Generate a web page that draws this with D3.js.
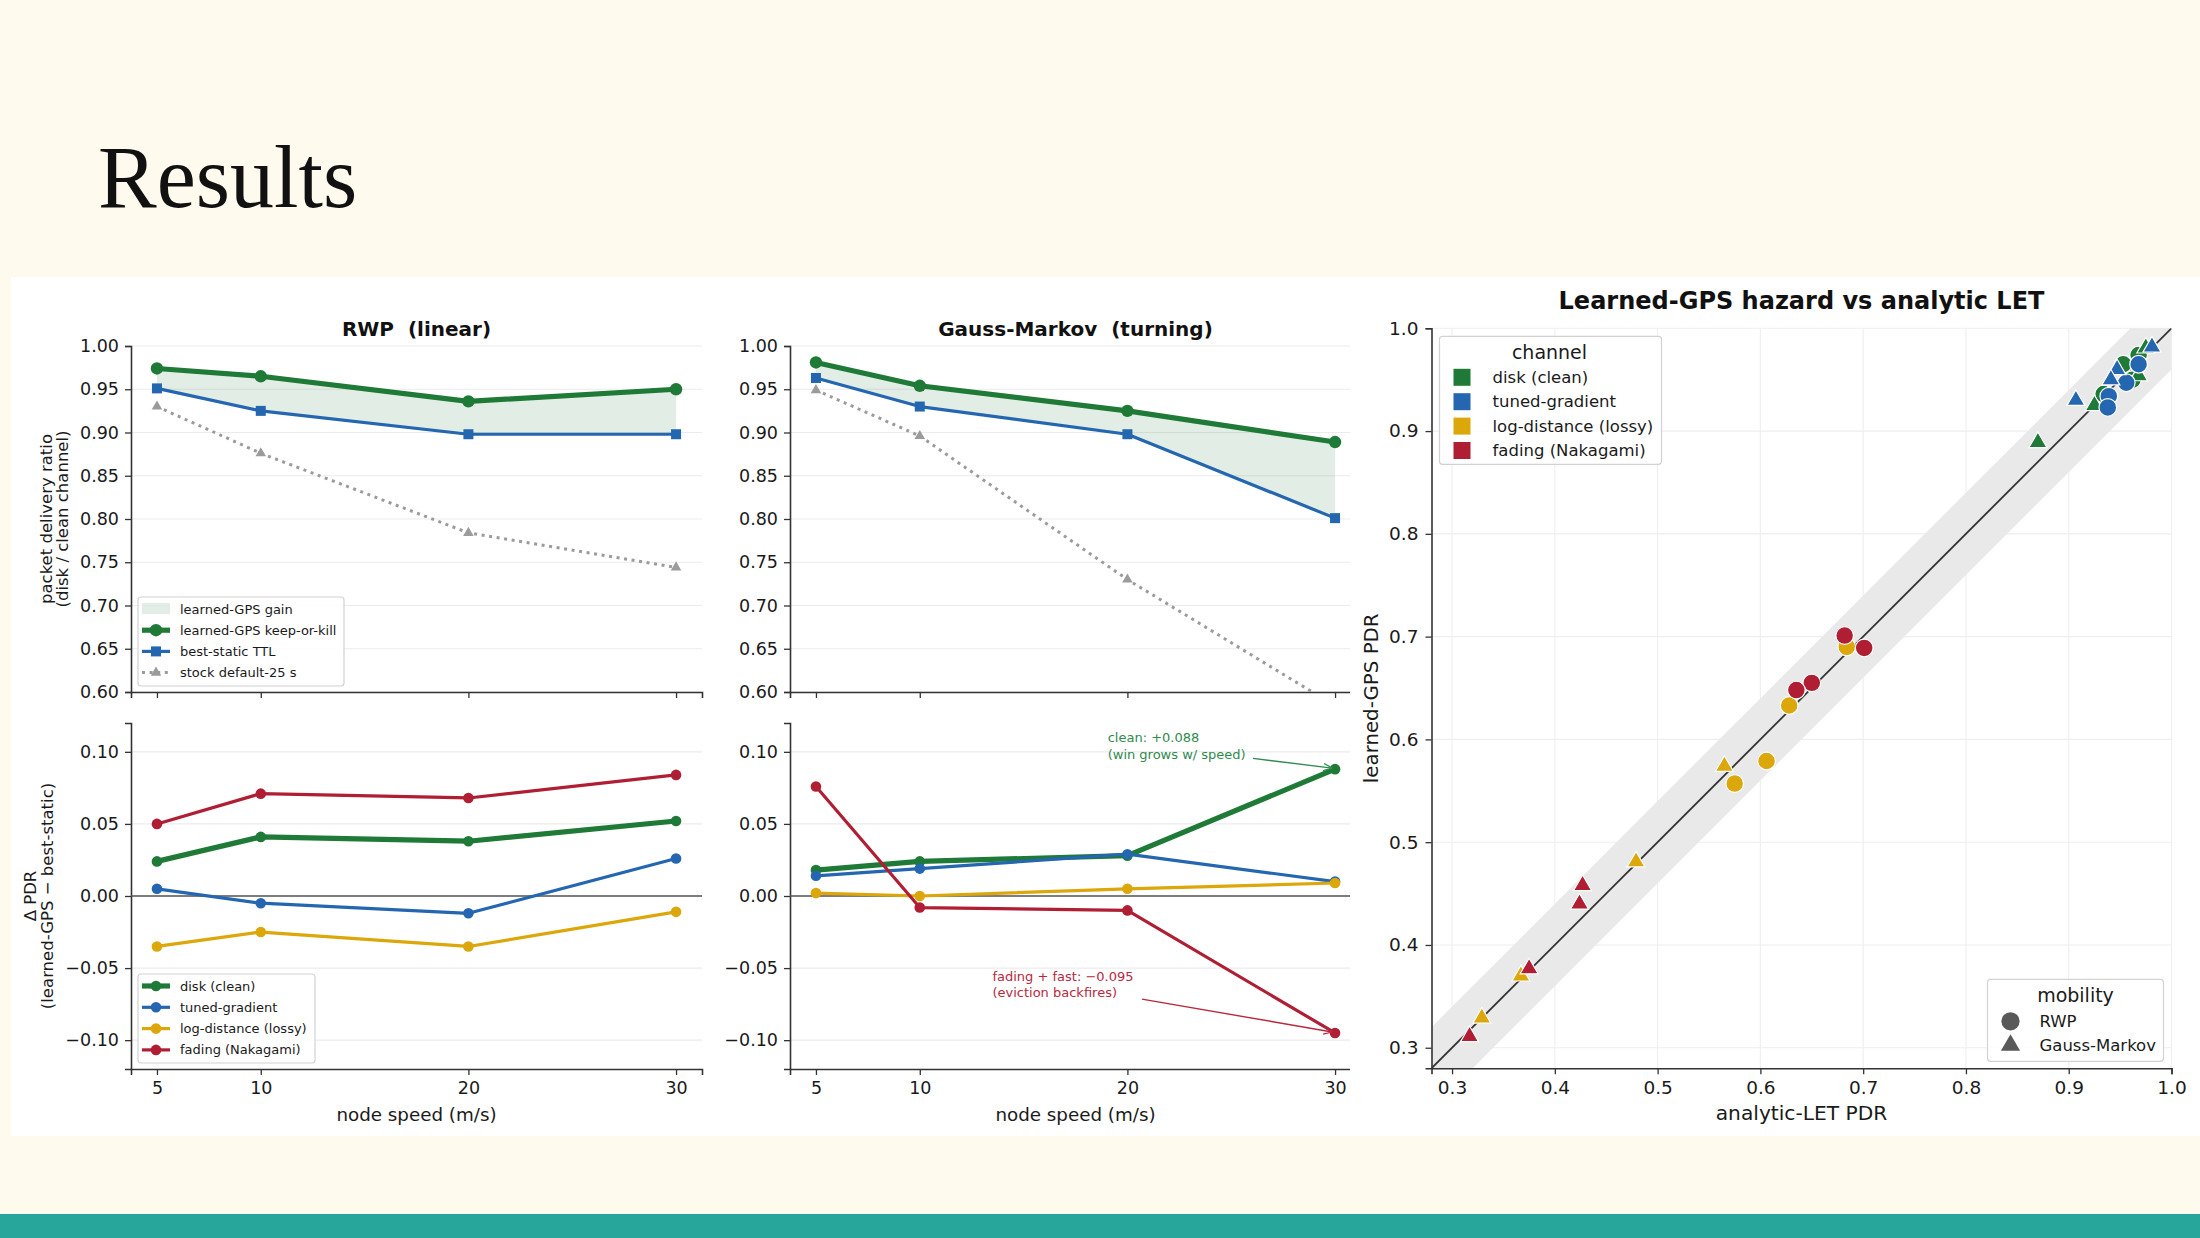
<!DOCTYPE html>
<html>
<head>
<meta charset="utf-8">
<script src="https://cdn.jsdelivr.net/npm/d3@7"></script>
<style>
  body { margin: 0; background: #fffaee; }
  text { font-family: "DejaVu Sans", sans-serif; }
</style>
</head>
<body>
<svg id="chart" width="2200" height="1238"></svg>
<script>
// ---- data ----
const speeds = [5, 10, 20, 30];
const pdrTicks = [0.60, 0.65, 0.70, 0.75, 0.80, 0.85, 0.90, 0.95, 1.00];
const deltaTicks = [-0.10, -0.05, 0.00, 0.05, 0.10];
const scatterTicks = [0.3, 0.4, 0.5, 0.6, 0.7, 0.8, 0.9, 1.0];

// top row: PDR on the clean disk channel
const rwpLearned = [0.974, 0.965, 0.936, 0.950];
const rwpBestStatic = [0.951, 0.925, 0.898, 0.898];
const rwpStock = [0.930, 0.876, 0.784, 0.744];
const gmLearned = [0.981, 0.954, 0.925, 0.889];
const gmBestStatic = [0.963, 0.930, 0.898, 0.801];
const gmStock = [0.949, 0.896, 0.730, 0.584];

// bottom row: delta PDR per channel (rows follow `channels`)
const channels = ["disk (clean)", "tuned-gradient", "log-distance (lossy)", "fading (Nakagami)"];
const rwpDelta = [
  [0.024, 0.041, 0.038, 0.052],
  [0.005, -0.005, -0.012, 0.026],
  [-0.035, -0.025, -0.035, -0.011],
  [0.050, 0.071, 0.068, 0.084]
];
const gmDelta = [
  [0.018, 0.024, 0.028, 0.088],
  [0.014, 0.019, 0.029, 0.010],
  [0.002, 0.000, 0.005, 0.009],
  [0.076, -0.008, -0.010, -0.095]
];

// scatter: analytic-LET PDR vs learned-GPS PDR, per channel, per speed
const mobilities = ["RWP", "Gauss-Markov"];
const rwpLet = [
  [0.968, 0.953, 0.934, 0.962],
  [0.968, 0.956, 0.939, 0.938],
  [0.684, 0.628, 0.606, 0.575],
  [0.682, 0.701, 0.650, 0.635]
];
const rwpGps = [
  [0.974, 0.965, 0.936, 0.950],
  [0.965, 0.947, 0.934, 0.923],
  [0.690, 0.633, 0.579, 0.557],
  [0.701, 0.689, 0.655, 0.648]
];
const gmLet = [
  [0.975, 0.968, 0.925, 0.870],
  [0.981, 0.947, 0.941, 0.907],
  [0.565, 0.479, 0.367, 0.329],
  [0.427, 0.424, 0.375, 0.317]
];
const gmGps = [
  [0.981, 0.954, 0.925, 0.889],
  [0.982, 0.960, 0.950, 0.930],
  [0.574, 0.481, 0.370, 0.329],
  [0.458, 0.440, 0.377, 0.311]
];
const bandHalfWidth = 0.04;

// ---- styles ----
const C = {
  green: "#1e7a36", blue: "#2467b0", gold: "#dca70b", red: "#b01e34",
  gray: "#9b9b9b", spine: "#333", grid: "#ebebeb", text: "#1a1a1a",
  fill: "rgba(30,122,54,0.13)"
};
const chanColors = [C.green, C.blue, C.gold, C.red];
const W = 2200, H = 1238;

const svg = d3.select("#chart");
const defs = svg.append("defs");

// slide background
svg.append("rect").attr("width", W).attr("height", H).attr("fill", "#fffaee");
svg.append("rect").attr("x", 11).attr("y", 277).attr("width", W - 11).attr("height", 859).attr("fill", "#fff");
svg.append("rect").attr("x", 0).attr("y", 1214).attr("width", W).attr("height", H - 1214).attr("fill", "#27a79b");
svg.append("text")
  .attr("x", 98).attr("y", 207)
  .style("font-family", "'Liberation Serif', 'DejaVu Serif', serif")
  .attr("font-size", 88).attr("fill", "#111")
  .text("Results");

// left figure is cropped on its right edge
defs.append("clipPath").attr("id", "leftClip")
  .append("rect").attr("x", 0).attr("y", 0).attr("width", 1350).attr("height", H);
const fig = svg.append("g").attr("clip-path", "url(#leftClip)");

const xDom = [3.75, 31.25];
const cols = [{ left: 131, right: 702 }, { left: 790, right: 1361 }];
const rows = [{ top: 346, bottom: 692 }, { top: 723, bottom: 1069 }];
let clipCount = 0;

function styleAxis(a, size) {
  a.select(".domain").attr("stroke", C.spine).attr("stroke-width", 1.6);
  a.selectAll(".tick line").attr("stroke", C.spine).attr("stroke-width", 1.3);
  a.selectAll(".tick text").attr("font-size", size).attr("fill", C.text)
    .style("font-family", "'DejaVu Sans', sans-serif");
}

function panel(col, row, yDom, ticks, fmt, showX) {
  const x = d3.scaleLinear().domain(xDom).range([col.left, col.right]);
  const y = d3.scaleLinear().domain(yDom).range([row.bottom, row.top]);
  const g = fig.append("g");

  g.selectAll(".grid").data(ticks).join("line")
    .attr("x1", col.left).attr("x2", col.right)
    .attr("y1", d => y(d)).attr("y2", d => y(d))
    .attr("stroke", C.grid).attr("stroke-width", 1.2);

  const ya = g.append("g").attr("transform", `translate(${col.left},0)`)
    .call(d3.axisLeft(y).tickValues(ticks).tickFormat(d3.format(fmt))
      .tickSizeOuter(0).tickSize(6).tickPadding(6));
  styleAxis(ya, 17.5);
  const xa = g.append("g").attr("transform", `translate(0,${row.bottom})`)
    .call(d3.axisBottom(x).tickValues(speeds)
      .tickFormat(showX ? d3.format("d") : () => "")
      .tickSizeOuter(0).tickSize(6).tickPadding(7));
  styleAxis(xa, 17.5);

  const id = "pclip" + (clipCount++);
  defs.append("clipPath").attr("id", id).append("rect")
    .attr("x", col.left).attr("y", row.top)
    .attr("width", col.right - col.left).attr("height", row.bottom - row.top);
  const data = g.append("g").attr("clip-path", `url(#${id})`);
  return { x, y, g, data };
}

function legendBox(g, x0, y0, w, h) {
  g.append("rect").attr("x", x0).attr("y", y0).attr("width", w).attr("height", h)
    .attr("rx", 3).attr("fill", "rgba(255,255,255,0.85)")
    .attr("stroke", "#d2d2d2").attr("stroke-width", 1.2);
}

// ---- top row: PDR ----
function pdrPanel(col, learned, best, stock) {
  const p = panel(col, rows[0], [0.60, 1.00], pdrTicks, ".2f", false);
  const { x, y, data } = p;
  const idx = d3.range(speeds.length);

  data.append("path")
    .attr("d", d3.area().x(i => x(speeds[i])).y0(i => y(best[i])).y1(i => y(learned[i]))(idx))
    .attr("fill", C.fill);

  data.append("path")
    .attr("d", d3.line().x(i => x(speeds[i])).y(i => y(stock[i]))(idx))
    .attr("fill", "none").attr("stroke", C.gray).attr("stroke-width", 3)
    .attr("stroke-dasharray", "3 4.6");
  data.selectAll(".stock").data(idx).join("path")
    .attr("transform", i => `translate(${x(speeds[i])},${y(stock[i])})`)
    .attr("d", d3.symbol().type(d3.symbolTriangle).size(48)())
    .attr("fill", C.gray);

  data.append("path")
    .attr("d", d3.line().x(i => x(speeds[i])).y(i => y(best[i]))(idx))
    .attr("fill", "none").attr("stroke", C.blue).attr("stroke-width", 3.2)
    .attr("stroke-linejoin", "round");
  data.selectAll(".best").data(idx).join("rect")
    .attr("x", i => x(speeds[i]) - 5).attr("y", i => y(best[i]) - 5)
    .attr("width", 10).attr("height", 10).attr("fill", C.blue);

  data.append("path")
    .attr("d", d3.line().x(i => x(speeds[i])).y(i => y(learned[i]))(idx))
    .attr("fill", "none").attr("stroke", C.green).attr("stroke-width", 5.2)
    .attr("stroke-linejoin", "round");
  data.selectAll(".learned").data(idx).join("circle")
    .attr("cx", i => x(speeds[i])).attr("cy", i => y(learned[i]))
    .attr("r", 6.2).attr("fill", C.green);
  return p;
}

const pRwpTop = pdrPanel(cols[0], rwpLearned, rwpBestStatic, rwpStock);
const pGmTop = pdrPanel(cols[1], gmLearned, gmBestStatic, gmStock);

// top legend
(function () {
  const g = pRwpTop.g;
  const x0 = cols[0].left + 7, y0 = rows[0].bottom - 95;
  legendBox(g, x0, y0, 206, 89);
  const items = ["learned-GPS gain", "learned-GPS keep-or-kill", "best-static TTL", "stock default-25 s"];
  items.forEach((label, i) => {
    const cy = y0 + 12 + i * 21.2, hx = x0 + 4;
    if (i === 0) {
      g.append("rect").attr("x", hx).attr("y", cy - 6).attr("width", 28).attr("height", 11).attr("fill", C.fill);
    } else if (i === 1) {
      g.append("line").attr("x1", hx).attr("x2", hx + 28).attr("y1", cy).attr("y2", cy)
        .attr("stroke", C.green).attr("stroke-width", 5.2);
      g.append("circle").attr("cx", hx + 14).attr("cy", cy).attr("r", 6.2).attr("fill", C.green);
    } else if (i === 2) {
      g.append("line").attr("x1", hx).attr("x2", hx + 28).attr("y1", cy).attr("y2", cy)
        .attr("stroke", C.blue).attr("stroke-width", 3.2);
      g.append("rect").attr("x", hx + 9).attr("y", cy - 5).attr("width", 10).attr("height", 10).attr("fill", C.blue);
    } else {
      g.append("line").attr("x1", hx).attr("x2", hx + 28).attr("y1", cy).attr("y2", cy)
        .attr("stroke", C.gray).attr("stroke-width", 3).attr("stroke-dasharray", "3 4.6");
      g.append("path").attr("transform", `translate(${hx + 14},${cy})`)
        .attr("d", d3.symbol().type(d3.symbolTriangle).size(48)()).attr("fill", C.gray);
    }
    g.append("text").attr("x", x0 + 42).attr("y", cy).attr("dy", "0.35em")
      .attr("font-size", 13).attr("fill", C.text).text(label);
  });
})();

// ---- bottom row: delta PDR ----
function deltaPanel(col, deltas) {
  const p = panel(col, rows[1], [-0.12, 0.12], deltaTicks, ".2f", true);
  const { x, y, data } = p;
  data.append("line").attr("x1", col.left).attr("x2", col.right)
    .attr("y1", y(0)).attr("y2", y(0)).attr("stroke", "#555").attr("stroke-width", 1.6);
  const idx = d3.range(speeds.length);
  deltas.forEach((vals, c) => {
    const lw = c === 0 ? 5.2 : 3.2;
    data.append("path")
      .attr("d", d3.line().x(i => x(speeds[i])).y(i => y(vals[i]))(idx))
      .attr("fill", "none").attr("stroke", chanColors[c]).attr("stroke-width", lw)
      .attr("stroke-linejoin", "round");
    data.selectAll(".m" + c).data(idx).join("circle")
      .attr("cx", i => x(speeds[i])).attr("cy", i => y(vals[i]))
      .attr("r", 5.3).attr("fill", chanColors[c]);
  });
  return p;
}

const pRwpBot = deltaPanel(cols[0], rwpDelta);
const pGmBot = deltaPanel(cols[1], gmDelta);

// bottom legend
(function () {
  const g = pRwpBot.g;
  const x0 = cols[0].left + 7, y0 = rows[1].bottom - 95;
  legendBox(g, x0, y0, 177, 89);
  channels.forEach((label, i) => {
    const cy = y0 + 12 + i * 21.3, hx = x0 + 4;
    g.append("line").attr("x1", hx).attr("x2", hx + 28).attr("y1", cy).attr("y2", cy)
      .attr("stroke", chanColors[i]).attr("stroke-width", i === 0 ? 5.2 : 3.2);
    g.append("circle").attr("cx", hx + 14).attr("cy", cy).attr("r", 5.3).attr("fill", chanColors[i]);
    g.append("text").attr("x", x0 + 42).attr("y", cy).attr("dy", "0.35em")
      .attr("font-size", 13).attr("fill", C.text).text(label);
  });
})();

// annotations on the Gauss-Markov delta panel
function arrowMarker(id, color) {
  defs.append("marker").attr("id", id).attr("viewBox", "0 0 10 10")
    .attr("refX", 9.5).attr("refY", 5).attr("markerWidth", 9).attr("markerHeight", 9)
    .attr("markerUnits", "userSpaceOnUse").attr("orient", "auto")
    .append("path").attr("d", "M0,1 L10,5 L0,9").attr("fill", "none")
    .attr("stroke", color).attr("stroke-width", 1.4);
}
const annGreen = "#2f8a4e", annRed = "#b8283f";
arrowMarker("arrG", annGreen);
arrowMarker("arrR", annRed);

function annotate(p, lines, tx, ty, sx, sy, px, py, color, marker) {
  const t = p.g.append("text").attr("x", p.x(tx)).attr("y", p.y(ty))
    .attr("font-size", 13).attr("fill", color);
  lines.forEach((s, i) => t.append("tspan").attr("x", p.x(tx)).attr("dy", i === 0 ? "0.35em" : 16.7).text(s));
  p.g.append("line").attr("x1", p.x(sx)).attr("y1", p.y(sy))
    .attr("x2", p.x(px) - 3).attr("y2", p.y(py) - 1)
    .attr("stroke", color).attr("stroke-width", 1.4).attr("marker-end", `url(#${marker})`);
}
annotate(pGmBot, ["clean: +0.088", "(win grows w/ speed)"], 19.05, 0.110, 26.05, 0.0955,
  speeds[3], gmDelta[0][3], annGreen, "arrG");
annotate(pGmBot, ["fading + fast: \u22120.095", "(eviction backfires)"], 13.5, -0.0555, 20.7, -0.0715,
  speeds[3], gmDelta[3][3], annRed, "arrR");

// titles and axis labels of the left figure
[["RWP  (linear)", cols[0]], ["Gauss-Markov  (turning)", cols[1]]].forEach(([t, col]) => {
  fig.append("text").attr("x", (col.left + col.right) / 2).attr("y", 336)
    .attr("text-anchor", "middle").attr("font-size", 20).attr("font-weight", "bold")
    .attr("fill", "#111").style("white-space", "pre").text(t);
});
cols.forEach(col => {
  fig.append("text").attr("x", (col.left + col.right) / 2).attr("y", 1121)
    .attr("text-anchor", "middle").attr("font-size", 18.3).attr("fill", C.text)
    .text("node speed (m/s)");
});
function vLabel(g, lines, xs, cy, size) {
  lines.forEach((s, i) => {
    g.append("text").attr("transform", `translate(${xs[i]},${cy}) rotate(-90)`)
      .attr("text-anchor", "middle").attr("dy", "0.35em")
      .attr("font-size", size).attr("fill", C.text).text(s);
  });
}
vLabel(fig, ["packet delivery ratio", "(disk / clean channel)"], [46, 62], (rows[0].top + rows[0].bottom) / 2, 16.5);
vLabel(fig, ["\u0394 PDR", "(learned-GPS \u2212 best-static)"], [30, 47], (rows[1].top + rows[1].bottom) / 2, 16.5);

// ---- right figure: scatter ----
const sc = { left: 1431.5, right: 2171.5, top: 328.3, bottom: 1068.3 };
const sx = d3.scaleLinear().domain([0.28, 1.0]).range([sc.left, sc.right]);
const sy = d3.scaleLinear().domain([0.28, 1.0]).range([sc.bottom, sc.top]);
const sg = svg.append("g");

defs.append("clipPath").attr("id", "scClip").append("rect")
  .attr("x", sc.left).attr("y", sc.top).attr("width", sc.right - sc.left).attr("height", sc.bottom - sc.top);

sg.selectAll(".vg").data(scatterTicks).join("line")
  .attr("x1", d => sx(d)).attr("x2", d => sx(d)).attr("y1", sc.top).attr("y2", sc.bottom)
  .attr("stroke", "#eeeeee").attr("stroke-width", 1.1);
sg.selectAll(".hg").data(scatterTicks).join("line")
  .attr("x1", sc.left).attr("x2", sc.right).attr("y1", d => sy(d)).attr("y2", d => sy(d))
  .attr("stroke", "#eeeeee").attr("stroke-width", 1.1);

const sData = sg.append("g").attr("clip-path", "url(#scClip)");
const diag = [0.28, 1.0];
sData.append("path")
  .attr("d", d3.area().x(d => sx(d)).y0(d => sy(d - bandHalfWidth)).y1(d => sy(d + bandHalfWidth))(diag))
  .attr("fill", "#e9e9e9");
sData.append("path")
  .attr("d", d3.line().x(d => sx(d)).y(d => sy(d))(diag))
  .attr("stroke", "#333").attr("stroke-width", 1.8).attr("fill", "none");

const circleSym = d3.symbol().type(d3.symbolCircle).size(245)();
const triSym = d3.symbol().type(d3.symbolTriangle).size(140)();
channels.forEach((ch, c) => {
  [[rwpLet, rwpGps, circleSym], [gmLet, gmGps, triSym]].forEach(([lx, gy, sym]) => {
    sData.selectAll(null).data(d3.range(speeds.length)).join("path")
      .attr("transform", i => `translate(${sx(lx[c][i])},${sy(gy[c][i])})`)
      .attr("d", sym).attr("fill", chanColors[c])
      .attr("stroke", "#fff").attr("stroke-width", 1.2);
  });
});

const sxa = sg.append("g").attr("transform", `translate(0,${sc.bottom})`)
  .call(d3.axisBottom(sx).tickValues(scatterTicks).tickFormat(d3.format(".1f"))
    .tickSizeOuter(0).tickSize(6).tickPadding(7));
styleAxis(sxa, 18.5);
const sya = sg.append("g").attr("transform", `translate(${sc.left},0)`)
  .call(d3.axisLeft(sy).tickValues(scatterTicks).tickFormat(d3.format(".1f"))
    .tickSizeOuter(0).tickSize(6).tickPadding(7));
styleAxis(sya, 18.5);

sg.append("text").attr("x", (sc.left + sc.right) / 2).attr("y", 309)
  .attr("text-anchor", "middle").attr("font-size", 24).attr("font-weight", "bold")
  .attr("fill", "#111").text("Learned-GPS hazard vs analytic LET");
sg.append("text").attr("x", (sc.left + sc.right) / 2).attr("y", 1120)
  .attr("text-anchor", "middle").attr("font-size", 20.2).attr("fill", C.text)
  .text("analytic-LET PDR");
vLabel(sg, ["learned-GPS PDR"], [1371], (sc.top + sc.bottom) / 2, 19.8);

// channel legend
(function () {
  const x0 = sc.left + 8, y0 = sc.top + 8;
  legendBox(sg, x0, y0, 222, 128);
  sg.append("text").attr("x", x0 + 110).attr("y", y0 + 16).attr("dy", "0.35em")
    .attr("text-anchor", "middle").attr("font-size", 19).attr("fill", C.text).text("channel");
  channels.forEach((label, i) => {
    const cy = y0 + 41 + i * 24.4;
    sg.append("rect").attr("x", x0 + 14).attr("y", cy - 8.5).attr("width", 17).attr("height", 17)
      .attr("fill", chanColors[i]);
    sg.append("text").attr("x", x0 + 53).attr("y", cy).attr("dy", "0.35em")
      .attr("font-size", 16.5).attr("fill", C.text).text(label);
  });
})();

// mobility legend
(function () {
  const x0 = sc.right - 184, y0 = sc.bottom - 89;
  legendBox(sg, x0, y0, 176, 82);
  sg.append("text").attr("x", x0 + 88).attr("y", y0 + 16).attr("dy", "0.35em")
    .attr("text-anchor", "middle").attr("font-size", 19).attr("fill", C.text).text("mobility");
  const syms = [d3.symbol().type(d3.symbolCircle).size(260)(), d3.symbol().type(d3.symbolTriangle).size(160)()];
  mobilities.forEach((label, i) => {
    const cy = y0 + 42 + i * 24;
    sg.append("path").attr("transform", `translate(${x0 + 23},${cy})`)
      .attr("d", syms[i]).attr("fill", "#595959");
    sg.append("text").attr("x", x0 + 52).attr("y", cy).attr("dy", "0.35em")
      .attr("font-size", 16.5).attr("fill", C.text).text(label);
  });
})();
</script>
</body>
</html>
